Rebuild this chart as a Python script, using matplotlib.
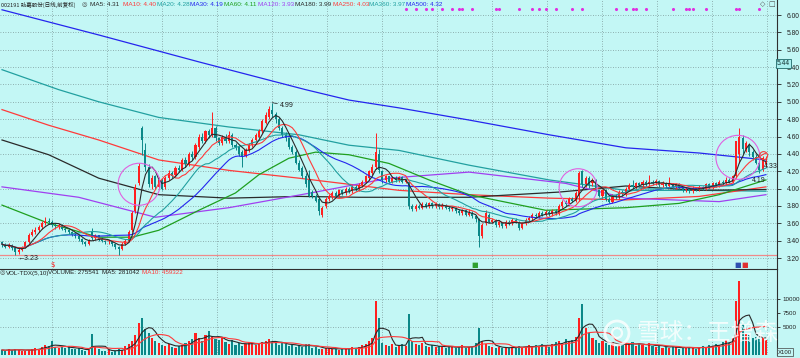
import numpy as np
import pandas as pd
import matplotlib
matplotlib.use('Agg')
import matplotlib.pyplot as plt
from matplotlib.patches import Ellipse, Circle
from matplotlib.transforms import blended_transform_factory, IdentityTransform

# daily bars (price in yuan, volume in x100 lots)
opens = [
    3.38, 3.36, 3.33, 3.35, 3.31, 3.27, 3.29, 3.32, 3.38, 3.47,
    3.50, 3.52, 3.56, 3.60, 3.63, 3.62, 3.58, 3.56, 3.58, 3.54,
    3.52, 3.50, 3.47, 3.45, 3.42, 3.38, 3.36, 3.50, 3.43, 3.46,
    3.42, 3.40, 3.38, 3.39, 3.36, 3.33, 3.30, 3.36, 3.40, 3.52,
    3.74, 4.06, 4.70, 4.45, 4.25, 4.05, 4.14, 4.02, 4.10, 4.02,
    4.12, 4.18, 4.16, 4.24, 4.22, 4.33, 4.28, 4.40, 4.36, 4.48,
    4.60, 4.55, 4.66, 4.62, 4.70, 4.58, 4.52, 4.60, 4.55, 4.62,
    4.50, 4.48, 4.42, 4.38, 4.44, 4.50, 4.56, 4.60, 4.66, 4.76,
    4.82, 4.90, 4.86, 4.80, 4.70, 4.62, 4.58, 4.48, 4.42, 4.30,
    4.24, 4.15, 4.10, 3.96, 3.92, 3.88, 3.70, 3.80, 3.88, 3.90,
    3.95, 3.92, 3.98, 3.95, 4.00, 3.97, 4.02, 3.99, 4.04, 4.08,
    4.12, 4.18, 4.25, 4.40, 4.20, 4.10, 4.14, 4.08, 4.12, 4.10,
    4.13, 4.08, 4.08, 3.80, 3.76, 3.80, 3.78, 3.82, 3.80, 3.83,
    3.80, 3.82, 3.79, 3.81, 3.78, 3.76, 3.78, 3.74, 3.72, 3.75,
    3.70, 3.72, 3.68, 3.65, 3.45, 3.60, 3.70, 3.62, 3.64, 3.58,
    3.61, 3.57, 3.62, 3.60, 3.64, 3.62, 3.55, 3.60, 3.64, 3.66,
    3.70, 3.68, 3.72, 3.70, 3.73, 3.71, 3.74, 3.72, 3.80, 3.85,
    3.82, 3.88, 3.86, 3.92, 4.20, 4.05, 4.12, 4.06, 4.10, 3.98,
    3.92, 3.98, 3.88, 3.85, 3.92, 3.90, 3.96, 3.94, 4.00, 4.04,
    4.02, 4.06, 4.04, 4.08, 4.05, 4.08, 4.06, 4.09, 4.04, 4.07,
    4.03, 4.06, 4.02, 4.05, 4.01, 3.98, 4.00, 3.97, 4.01, 3.99,
    4.02, 4.00, 4.05, 4.02, 4.06, 4.04, 4.08, 4.06, 4.10, 4.08,
    4.14, 4.40, 4.58, 4.46, 4.50, 4.42, 4.36, 4.30, 4.22, 4.28,
]
closes = [
    3.36, 3.33, 3.35, 3.31, 3.27, 3.29, 3.32, 3.38, 3.47, 3.50,
    3.52, 3.56, 3.60, 3.63, 3.62, 3.58, 3.57, 3.58, 3.54, 3.52,
    3.50, 3.47, 3.45, 3.42, 3.38, 3.36, 3.40, 3.43, 3.46, 3.42,
    3.40, 3.38, 3.39, 3.36, 3.33, 3.30, 3.36, 3.40, 3.50, 3.72,
    4.02, 4.26, 4.56, 4.25, 4.05, 4.12, 4.02, 4.10, 4.00, 4.12,
    4.18, 4.15, 4.24, 4.22, 4.33, 4.28, 4.40, 4.36, 4.50, 4.60,
    4.55, 4.66, 4.62, 4.70, 4.58, 4.52, 4.60, 4.55, 4.62, 4.50,
    4.48, 4.40, 4.38, 4.45, 4.50, 4.56, 4.62, 4.66, 4.78, 4.85,
    4.92, 4.86, 4.80, 4.70, 4.62, 4.58, 4.48, 4.42, 4.30, 4.22,
    4.15, 4.05, 3.92, 3.92, 3.86, 3.74, 3.78, 3.88, 3.92, 3.95,
    3.92, 3.98, 3.95, 4.00, 3.97, 4.02, 3.99, 4.04, 4.08, 4.14,
    4.20, 4.25, 4.42, 4.22, 4.10, 4.14, 4.08, 4.12, 4.10, 4.13,
    4.08, 4.10, 3.80, 3.76, 3.80, 3.78, 3.82, 3.80, 3.83, 3.80,
    3.82, 3.79, 3.81, 3.78, 3.76, 3.78, 3.74, 3.72, 3.75, 3.70,
    3.72, 3.68, 3.65, 3.45, 3.58, 3.72, 3.62, 3.64, 3.58, 3.61,
    3.57, 3.62, 3.60, 3.64, 3.62, 3.55, 3.60, 3.64, 3.66, 3.70,
    3.68, 3.72, 3.70, 3.73, 3.71, 3.74, 3.72, 3.80, 3.85, 3.82,
    3.88, 3.86, 3.95, 4.18, 4.05, 4.12, 4.04, 4.10, 3.98, 3.92,
    3.98, 3.88, 3.85, 3.92, 3.90, 3.96, 3.94, 4.00, 4.04, 4.02,
    4.06, 4.04, 4.08, 4.05, 4.08, 4.06, 4.09, 4.04, 4.07, 4.03,
    4.06, 4.02, 4.05, 4.01, 3.98, 4.00, 3.97, 4.01, 3.99, 4.02,
    4.00, 4.05, 4.02, 4.06, 4.04, 4.08, 4.06, 4.10, 4.08, 4.14,
    4.55, 4.60, 4.46, 4.52, 4.42, 4.36, 4.30, 4.22, 4.35, 4.31,
]
highs = [
    3.40, 3.37, 3.37, 3.36, 3.32, 3.31, 3.34, 3.40, 3.49, 3.53,
    3.56, 3.58, 3.63, 3.67, 3.66, 3.64, 3.60, 3.60, 3.59, 3.56,
    3.54, 3.51, 3.49, 3.46, 3.43, 3.40, 3.42, 3.55, 3.48, 3.47,
    3.44, 3.41, 3.41, 3.40, 3.37, 3.34, 3.38, 3.42, 3.52, 3.74,
    4.05, 4.30, 4.72, 4.52, 4.28, 4.16, 4.16, 4.13, 4.12, 4.14,
    4.21, 4.20, 4.26, 4.27, 4.35, 4.36, 4.42, 4.43, 4.52, 4.63,
    4.64, 4.68, 4.69, 4.88, 4.72, 4.60, 4.62, 4.63, 4.66, 4.64,
    4.53, 4.50, 4.44, 4.47, 4.52, 4.58, 4.64, 4.69, 4.80, 4.88,
    4.95, 4.99, 4.88, 4.82, 4.72, 4.65, 4.60, 4.50, 4.44, 4.33,
    4.26, 4.18, 4.21, 3.98, 3.94, 3.90, 3.80, 3.90, 3.94, 3.97,
    3.97, 4.00, 4.00, 4.02, 4.02, 4.04, 4.04, 4.06, 4.10, 4.16,
    4.22, 4.28, 4.64, 4.46, 4.22, 4.16, 4.15, 4.14, 4.14, 4.15,
    4.14, 4.12, 4.09, 3.82, 3.82, 3.82, 3.84, 3.84, 3.85, 3.84,
    3.84, 3.83, 3.83, 3.82, 3.80, 3.80, 3.79, 3.76, 3.77, 3.76,
    3.76, 3.74, 3.70, 3.66, 3.60, 3.75, 3.72, 3.66, 3.65, 3.63,
    3.62, 3.64, 3.64, 3.66, 3.66, 3.63, 3.62, 3.66, 3.68, 3.72,
    3.72, 3.74, 3.74, 3.75, 3.75, 3.76, 3.76, 3.82, 3.87, 3.87,
    3.90, 3.90, 3.97, 4.20, 4.22, 4.15, 4.14, 4.12, 4.11, 4.00,
    4.00, 3.99, 3.90, 3.94, 3.94, 3.98, 3.98, 4.02, 4.06, 4.10,
    4.08, 4.08, 4.10, 4.10, 4.16, 4.10, 4.11, 4.10, 4.09, 4.08,
    4.13, 4.07, 4.07, 4.06, 4.02, 4.02, 4.01, 4.03, 4.02, 4.04,
    4.03, 4.07, 4.06, 4.08, 4.08, 4.10, 4.10, 4.13, 4.12, 4.16,
    4.55, 4.70, 4.62, 4.55, 4.52, 4.44, 4.40, 4.32, 4.38, 4.38,
]
lows = [
    3.33, 3.31, 3.31, 3.29, 3.23, 3.25, 3.28, 3.31, 3.37, 3.45,
    3.48, 3.50, 3.54, 3.58, 3.59, 3.56, 3.54, 3.54, 3.52, 3.50,
    3.48, 3.45, 3.43, 3.40, 3.36, 3.34, 3.35, 3.41, 3.41, 3.40,
    3.38, 3.36, 3.36, 3.34, 3.30, 3.24, 3.29, 3.35, 3.39, 3.50,
    3.72, 4.04, 4.39, 4.20, 4.02, 4.00, 3.99, 4.00, 3.98, 4.00,
    4.10, 4.12, 4.14, 4.19, 4.20, 4.25, 4.26, 4.33, 4.34, 4.46,
    4.52, 4.53, 4.58, 4.60, 4.55, 4.50, 4.50, 4.52, 4.53, 4.48,
    4.45, 4.38, 4.25, 4.36, 4.42, 4.48, 4.54, 4.58, 4.64, 4.74,
    4.80, 4.82, 4.76, 4.68, 4.60, 4.55, 4.46, 4.40, 4.28, 4.20,
    4.12, 4.02, 3.90, 3.89, 3.84, 3.70, 3.67, 3.78, 3.86, 3.88,
    3.90, 3.90, 3.93, 3.93, 3.95, 3.95, 3.97, 3.97, 4.02, 4.06,
    4.10, 4.16, 4.23, 4.18, 4.07, 4.08, 4.06, 4.06, 4.08, 4.08,
    4.06, 4.06, 3.76, 3.74, 3.74, 3.76, 3.76, 3.78, 3.78, 3.78,
    3.78, 3.77, 3.77, 3.76, 3.74, 3.74, 3.72, 3.70, 3.70, 3.68,
    3.68, 3.66, 3.62, 3.33, 3.43, 3.58, 3.60, 3.60, 3.56, 3.56,
    3.55, 3.55, 3.58, 3.58, 3.60, 3.52, 3.53, 3.58, 3.62, 3.64,
    3.66, 3.66, 3.68, 3.68, 3.69, 3.69, 3.70, 3.70, 3.78, 3.80,
    3.80, 3.84, 3.84, 3.86, 4.02, 4.02, 4.01, 4.03, 3.96, 3.90,
    3.88, 3.86, 3.83, 3.83, 3.88, 3.88, 3.92, 3.92, 3.98, 4.00,
    4.00, 4.02, 4.02, 4.03, 4.03, 4.04, 4.04, 4.02, 4.02, 4.01,
    4.01, 4.00, 4.00, 3.99, 3.96, 3.96, 3.95, 3.95, 3.97, 3.97,
    3.98, 3.98, 4.00, 4.00, 4.02, 4.02, 4.04, 4.04, 4.06, 4.06,
    4.12, 4.30, 4.40, 4.42, 4.38, 4.33, 4.28, 4.18, 4.20, 4.26,
]
volumes = [
    900, 800, 1000, 850, 1100, 900, 750, 800, 950, 1000,
    1200, 1100, 1500, 1800, 1600, 2500, 1400, 1300, 1500, 1200,
    1600, 1100, 1000, 1200, 900, 800, 900, 3700, 1500, 1000,
    800, 700, 900, 600, 800, 1000, 900, 1600, 2000, 2500,
    3500, 5700, 6600, 4600, 4000, 3000, 2500, 2200, 1800, 1600,
    2000, 1500, 1300, 1600, 1800, 2200, 2500, 2800, 3900, 3000,
    2500, 3500, 4300, 3200, 2800, 2600, 3000, 2400, 2000, 2600,
    1800, 2200, 1600, 1900, 2400, 2100, 1800, 2000, 2300, 2500,
    2800, 2400, 2100, 1800, 2200, 2000, 1600, 1800, 1500, 1700,
    1400, 1900, 2000, 1200, 1500, 1100, 1000, 1300, 1200, 1000,
    1100, 900, 1300, 1200, 1000, 1400, 1100, 1500, 1800, 2000,
    2500, 3000, 9640, 6600, 2100, 1800, 1600, 1900, 1500, 1700,
    2000, 1600, 7300, 2500, 2000, 1800, 2200, 1600, 1500, 1700,
    1400, 1600, 1500, 1300, 1600, 1400, 1200, 1500, 1700, 1300,
    1400, 1500, 2100, 4800, 2500, 2000, 1600, 1400, 1300, 1500,
    1200, 1300, 1200, 1500, 1400, 1600, 1300, 1500, 1700, 1400,
    1800, 1600, 2000, 1700, 1500, 1900, 2300, 2500, 2100, 2800,
    2400, 2600, 3200, 6600, 9100, 4800, 3900, 3000, 2600, 2200,
    2500, 2100, 1800, 2300, 1600, 2000, 1700, 2200, 1900, 2400,
    1600, 2000, 1800, 1500, 2200, 1600, 1400, 1800, 1300, 1500,
    1200, 1600, 1400, 1100, 1300, 1200, 1500, 1400, 1000, 1300,
    1600, 1400, 1800, 1600, 2000, 1800, 2300, 2600, 2200, 3000,
    9600, 13200, 5500, 3800, 3600, 3000, 3200, 2800, 3300, 2755,
]

ma60_idx = [0, 14, 29, 39, 47, 59, 70, 77, 86, 94, 104, 116, 128, 140, 163, 187, 203, 215, 229]
ma60_val = [3.81, 3.60, 3.44, 3.44, 3.52, 3.75, 3.95, 4.16, 4.35, 4.42, 4.39, 4.29, 4.10, 3.93, 3.75, 3.78, 3.83, 3.93, 4.10]
ma120_idx = [0, 23, 46, 68, 94, 116, 140, 169, 187, 215, 229]
ma120_val = [4.02, 3.90, 3.67, 3.78, 3.96, 4.12, 4.19, 4.06, 3.89, 3.85, 3.93]
ma180_idx = [0, 14, 29, 47, 68, 89, 107, 140, 167, 187, 209, 229]
ma180_val = [4.56, 4.39, 4.12, 3.93, 3.89, 3.91, 3.90, 3.90, 3.96, 4.03, 3.98, 3.99]
ma250_idx = [0, 14, 29, 47, 68, 89, 104, 119, 140, 164, 187, 209, 229]
ma250_val = [4.91, 4.73, 4.56, 4.33, 4.21, 4.12, 4.05, 3.98, 3.93, 3.89, 3.87, 3.91, 4.02]
ma360_idx = [0, 17, 29, 47, 68, 89, 104, 119, 140, 164, 187, 209, 229]
ma360_val = [5.37, 5.14, 5.00, 4.82, 4.71, 4.62, 4.50, 4.44, 4.27, 4.10, 3.98, 3.98, 3.97]
ma500_idx = [0, 29, 59, 91, 104, 119, 140, 164, 187, 209, 229]
ma500_val = [6.06, 5.77, 5.46, 5.14, 5.02, 4.93, 4.79, 4.62, 4.47, 4.41, 4.33]

header_items = ['MA5: 4.31', 'MA10: 4.40', 'MA20: 4.28', 'MA30: 4.19', 'MA60: 4.11',
                'MA120: 3.93', 'MA180: 3.99', 'MA250: 4.03', 'MA360: 3.97', 'MA500: 4.32']
event_idx = [121, 124, 127, 129, 132, 135, 137, 138, 141, 148, 149, 155, 159, 161, 163,
             166, 171, 174, 184, 187, 189, 190, 193, 201, 205, 206, 207, 211, 220, 221, 227]
# hand-drawn rings: (bar, price, radius in px)
rings = [(41.1, 4.05, 21), (172.7, 4.01, 19), (220.6, 4.36, 22)]

BG = '#c3f7f5'
UP = '#ff2020'
DN = '#0b8888'
GRID = '#7d9a9a'
C_BLACK, C_RED, C_TEAL, C_BLUE = '#2a2a2a', '#ff3a3a', '#22a0a0', '#2525ee'
C_GREEN, C_PURPLE = '#1f9f1f', '#a040f0'

W, H = 800, 358
PX = 3.336        # pixels per bar
PPX = 86.8        # pixels per 1.00 yuan

plt.rcParams['font.family'] = ['Liberation Sans', 'DejaVu Sans', 'Noto Sans CJK SC']
CJK = ['Noto Sans CJK SC', 'DejaVu Sans']

df = pd.DataFrame({'open': opens, 'close': closes, 'high': highs, 'low': lows, 'vol': volumes})
for w in (5, 10, 20, 30):
    df[f'ma{w}'] = df['close'].rolling(w, min_periods=1).mean()
df['vma5'] = df['vol'].rolling(5, min_periods=1).mean()
df['vma10'] = df['vol'].rolling(10, min_periods=1).mean()
n = len(df)
x = np.arange(n)
up = (df['close'] >= df['open']).to_numpy()
col = np.where(up, UP, DN)

fig = plt.figure(figsize=(W / 100, H / 100), dpi=100, facecolor=BG)
ax = fig.add_axes([0, 1 - 269 / H, 777 / W, 269 / H], facecolor=BG)
axv = fig.add_axes([0, 3 / H, 777 / W, 86 / H], facecolor=BG)

xlim = (-2 / PX, (777 - 2) / PX)
for a in (ax, axv):
    a.set_xlim(*xlim)
    a.set_xticks([])
    for s in ('left', 'top', 'bottom'):
        a.spines[s].set_visible(False)
    a.spines['right'].set_color('#303030')
    a.spines['right'].set_linewidth(0.8)
    for k in range(14):
        a.axvline((52 + 55 * k - 2) / PX, color=GRID, lw=0.6, ls=(0, (1, 2)), zorder=0)
axv.spines['top'].set_visible(True)
axv.spines['top'].set_color('#303030')
axv.spines['top'].set_linewidth(0.8)

# price panel
ax.set_ylim(6 - (269 - 15) / PPX, 6 + 15 / PPX)
yt = np.round(np.arange(3.2, 6.001, 0.2), 2)
ax.set_yticks(yt)
ax.set_yticklabels([f'{v:.2f}' for v in yt])
ax.yaxis.tick_right()
ax.tick_params(axis='y', direction='out', length=3, width=0.6, pad=4, labelsize=4.8, colors='#202020')
for v in yt:
    ax.axhline(v, color=GRID, lw=0.6, ls=(0, (1, 2)), zorder=0)

for idx, val, c in [(ma500_idx, ma500_val, C_BLUE), (ma360_idx, ma360_val, C_TEAL),
                    (ma250_idx, ma250_val, C_RED), (ma180_idx, ma180_val, C_BLACK),
                    (ma120_idx, ma120_val, C_PURPLE), (ma60_idx, ma60_val, C_GREEN)]:
    ax.plot(idx, val, color=c, lw=0.9, zorder=2)

ax.axhline(df['low'].min(), color='#f08a8a', lw=0.9, zorder=1)

body_lo = np.minimum(df['open'], df['close'])
body_h = np.maximum((df['close'] - df['open']).abs(), 0.008)
ax.vlines(x, df['low'], df['high'], colors=col, lw=0.7, zorder=3)
ax.bar(x, body_h, bottom=body_lo, width=0.62, color=col, lw=0, zorder=3)

for key, c in [('ma30', C_BLUE), ('ma20', C_TEAL), ('ma10', C_RED), ('ma5', C_BLACK)]:
    ax.plot(x, df[key], color=c, lw=0.8, zorder=4)

for bx, by, r in rings:
    ax.add_patch(Ellipse((bx, by), 2 * r / PX, 2 * r / PPX, fill=False,
                         ec='#e060e0', lw=0.8, zorder=5))
ax.add_patch(Ellipse((228.3, 4.38), 8 / PX, 8 / PPX, fill=False, ec='#f04040', lw=0.8, zorder=5))

lo_i = int(df['low'].idxmin())
hi_i = int(df['high'].idxmax())
ax.annotate(f'\u2190{df["low"].min():.2f}', xy=(lo_i, df['low'].min()), xytext=(2, -3),
            textcoords='offset pixels', fontsize=5, va='center', color='#202020', zorder=6)
ax.annotate(f'{df["high"].max():.2f}', xy=(hi_i, df['high'].max()), xytext=(8, -3),
            textcoords='offset pixels', fontsize=5, va='center', color='#202020', zorder=6,
            arrowprops=dict(arrowstyle='-', lw=0.5, color='#202020', shrinkA=0, shrinkB=0))
ax.annotate('4.33', xy=(n - 1, df['close'].iloc[-1]), xytext=(-2, -5),
            textcoords='offset pixels', fontsize=5, va='center', color='#202020', zorder=6)
ax.annotate('4.19', xy=(n - 1, df['ma30'].iloc[-1]), xytext=(-14, -6),
            textcoords='offset pixels', fontsize=5, va='center', color='#202020', zorder=6)

ax.scatter(event_idx, [0.966] * len(event_idx), s=1.5, color='#e030e0', zorder=6,
           transform=blended_transform_factory(ax.transData, ax.transAxes), clip_on=False)

ax.text(1.0, 5.44, '5.44', transform=blended_transform_factory(ax.transAxes, ax.transData),
        ha='left', va='center', fontsize=4.8, color='#103030', clip_on=False, zorder=10,
        bbox=dict(boxstyle='square,pad=0.1', fc='#a9f0f0', ec='#1f6868', lw=0.6))

# volume panel
axv.set_ylim(0, 86 / 56 * 10000)
axv.bar(x, df['vol'], width=0.62, color=col, lw=0, zorder=3)
axv.plot(x, df['vma5'], color=C_BLACK, lw=0.8, zorder=4)
axv.plot(x, df['vma10'], color=C_RED, lw=0.8, zorder=4)
axv.yaxis.tick_right()
axv.set_yticks([5000, 7500, 10000])
axv.set_yticklabels(['5000', '7500', '10000'])
axv.tick_params(axis='y', direction='out', length=2, width=0.6, pad=2, labelsize=4.5, colors='#202020')
for v in (5000, 10000):
    axv.axhline(v, color=GRID, lw=0.6, ls=(0, (1, 2)), zorder=0)


def ftext(px, py, s, **kw):
    fig.text(px / W, 1 - py / H, s, va='center', ha='left', **kw)


# header line
ftext(1, 5, '002191 劲嘉股份(日线,前复权)', fontsize=4.0, color='#202020', family=CJK)
ftext(82, 5, '◎', fontsize=4.5, color='#404040', family=['DejaVu Sans'])
head_x = [90, 123, 157, 190, 224, 258, 295, 333, 369, 406]
head_c = [C_BLACK, C_RED, C_TEAL, C_BLUE, C_GREEN, C_PURPLE, C_BLACK, C_RED, C_TEAL, C_BLUE]
for hx, s, c in zip(head_x, header_items, head_c):
    ftext(hx, 5, s, fontsize=4.6, color=c)
ftext(760, 4, '◇', fontsize=5, color='#505050', family=['DejaVu Sans'])
ftext(768, 4, '□', fontsize=5, color='#505050', family=['DejaVu Sans'])

# volume header
ftext(0, 273, '◎', fontsize=4.5, color='#404040', family=['DejaVu Sans'])
ftext(6, 273, 'VOL-TDX(5,10)', fontsize=4.5, color='#202020')
ftext(48, 273, 'VOLUME: 275541', fontsize=4.5, color='#202020')
ftext(102, 273, 'MA5: 281042', fontsize=4.5, color='#202020')
ftext(142, 273, 'MA10: 459322', fontsize=4.5, color=C_RED)
fig.text(785 / W, 1 - 352 / H, 'X100', fontsize=4.3, ha='center', va='center', color='#202020',
         bbox=dict(boxstyle='square,pad=0.2', fc=BG, ec='#404040', lw=0.5))

# small markers on the panel divider
ftext(50, 265, '$', fontsize=5, color='#ff2020', family=['DejaVu Sans'])
ftext(471, 265, '■', fontsize=5, color='#30a030', family=['DejaVu Sans'])
ftext(734, 265, '■', fontsize=5, color='#3050b0', family=['DejaVu Sans'])
ftext(741, 265, '■', fontsize=5, color='#e03030', family=['DejaVu Sans'])

# watermark
fig.add_artist(Circle((617, H - 333), 12, transform=IdentityTransform(), fill=False,
                      ec='white', lw=2, alpha=0.8))
fig.add_artist(Circle((617, H - 333), 5, transform=IdentityTransform(), fill=False,
                      ec='white', lw=1.6, alpha=0.8))
ftext(636, 333, '雪球：王增森', fontsize=17, color='white', alpha=0.8, family=CJK)

fig.savefig('out.png', dpi=100, facecolor=BG)
